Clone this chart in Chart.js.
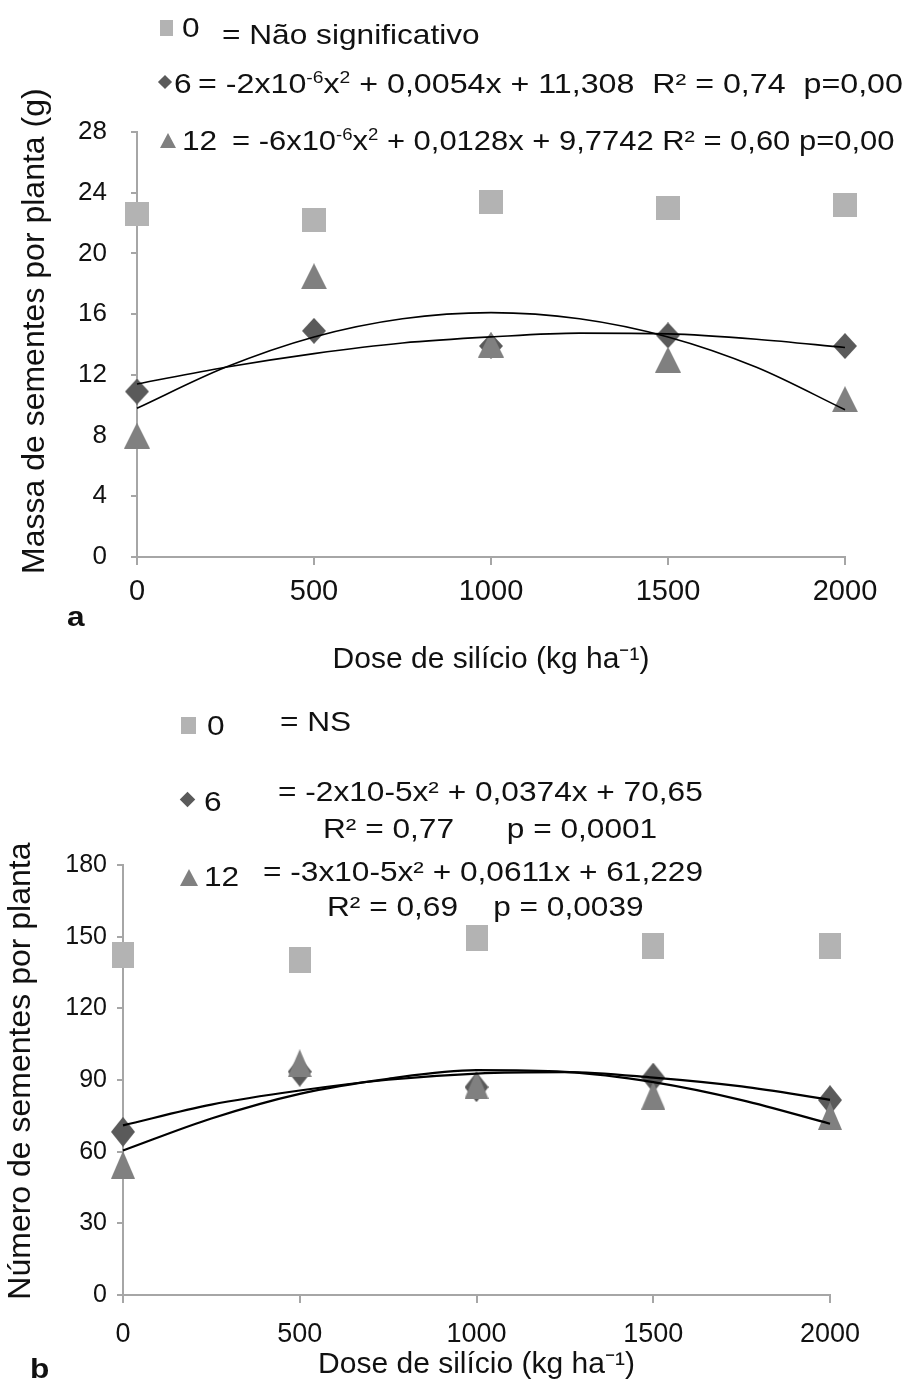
<!DOCTYPE html>
<html>
<head>
<meta charset="utf-8">
<script src="https://cdn.jsdelivr.net/npm/chart.js@4/dist/chart.umd.min.js"></script>
<style>
  html, body { margin: 0; padding: 0; background: #fff; }
  body { width: 909px; height: 1385px; position: relative; overflow: hidden;
         font-family: 'Liberation Sans', Arial, sans-serif; color: #111; }
  .wrap { position: absolute; left: 0; width: 909px; }
  .t { position: absolute; white-space: pre; line-height: 1; font-size: 28px;
       transform-origin: left center; transform: translateY(-50%) scaleX(1.13); }
  .s { font-size: 0.6em; position: relative; top: -0.6em; }
  .mk { position: absolute; }
</style>
</head>
<body>
<div class="wrap" style="top:0;height:700px"><canvas id="chartA"></canvas></div>
<div class="wrap" style="top:700px;height:685px"><canvas id="chartB"></canvas></div>

<!-- legend, chart a -->
<div class="mk" style="left:160px;top:20px;width:13px;height:16px;background:#b3b3b3"></div>
<div class="t" style="left:182px;top:28px">0</div>
<div class="t" style="left:222px;top:35px">= Não significativo</div>
<div class="mk" style="left:160px;top:77px;width:10px;height:10px;background:#5a5a5a;transform:rotate(45deg)"></div>
<div class="t" style="left:174px;top:84px">6</div>
<div class="t" style="left:198px;top:84px;transform:translateY(-50%) scaleX(1.15)">= -2x10<span class="s">-6</span>x<span class="s">2</span> + 0,0054x + 11,308  R² = 0,74  p=0,00</div>
<div class="mk" style="left:160px;top:133px;width:0;height:0;border-left:8px solid transparent;border-right:8px solid transparent;border-bottom:15px solid #808080"></div>
<div class="t" style="left:182px;top:141px">12</div>
<div class="t" style="left:232px;top:141px;transform:translateY(-50%) scaleX(1.105)">= -6x10<span class="s">-6</span>x<span class="s">2</span> + 0,0128x + 9,7742 R² = 0,60 p=0,00</div>
<div class="t" style="left:67px;top:617px;font-weight:bold">a</div>

<!-- legend, chart b -->
<div class="mk" style="left:181px;top:717px;width:15px;height:17px;background:#b3b3b3"></div>
<div class="t" style="left:207px;top:726px">0</div>
<div class="t" style="left:280px;top:722px">= NS</div>
<div class="mk" style="left:182px;top:794px;width:11px;height:11px;background:#5a5a5a;transform:rotate(45deg)"></div>
<div class="t" style="left:204px;top:802px">6</div>
<div class="t" style="left:278px;top:792px">= -2x10-5x² + 0,0374x + 70,65</div>
<div class="t" style="left:323px;top:829px">R² = 0,77      p = 0,0001</div>
<div class="mk" style="left:180px;top:869px;width:0;height:0;border-left:9px solid transparent;border-right:9px solid transparent;border-bottom:17px solid #808080"></div>
<div class="t" style="left:204px;top:877px">12</div>
<div class="t" style="left:263px;top:872px">= -3x10-5x² + 0,0611x + 61,229</div>
<div class="t" style="left:327px;top:907px">R² = 0,69    p = 0,0039</div>
<div class="t" style="left:30px;top:1369px;font-weight:bold">b</div>

<script>
// ---------- data ----------
const doses = [0, 500, 1000, 1500, 2000];
const xTicks = [0, 500, 1000, 1500, 2000];

// chart a: Massa de sementes por planta (g)
const yTicksA = [0, 4, 8, 12, 16, 20, 24, 28];
const massa0 = [22.6, 22.2, 23.4, 23.0, 23.2];
const massa6 = [10.9, 14.9, 13.9, 14.6, 13.9];
const massa12 = [8.0, 18.5, 14.0, 13.0, 10.4];
const trendX = [0, 250, 500, 750, 1000, 1250, 1500, 1750, 2000];
const massaTrend6 = [11.4, 12.5, 13.4, 14.1, 14.5, 14.75, 14.7, 14.35, 13.8];
const massaTrend12 = [9.8, 12.5, 14.5, 15.7, 16.1, 15.7, 14.5, 12.5, 9.7];

// chart b: Número de sementes por planta
const yTicksB = [0, 30, 60, 90, 120, 150, 180];
const numero0 = [142.3, 140.2, 149.3, 146.0, 146.0];
const numero6 = [68.3, 93.5, 87.0, 91.0, 81.6];
const numero12 = [54.5, 97.0, 88.0, 83.5, 75.0];
const numeroTrend6 = [71.0, 79.7, 85.6, 90.1, 92.7, 93.3, 91.0, 87.3, 81.7];
const numeroTrend12 = [60.5, 73.9, 84.2, 90.5, 94.1, 93.4, 89.1, 81.6, 71.7];

// ---------- helpers ----------
const FONT = "'Liberation Sans', Arial, sans-serif";
const NB = '\u00A0';
const pairs = (xs, ys) => xs.map((x, i) => ({ x: x, y: ys[i] }));
function mk(w, h, draw) {
  const c = document.createElement('canvas');
  c.width = w; c.height = h;
  draw(c.getContext('2d'), w, h);
  return c;
}
const square = (w, h, col) => mk(w, h, (g) => { g.fillStyle = col; g.fillRect(0, 0, w, h); });
const diamond = (w, h, col) => mk(w, h, (g) => {
  g.fillStyle = col; g.beginPath();
  g.moveTo(w / 2, 0); g.lineTo(w, h / 2); g.lineTo(w / 2, h); g.lineTo(0, h / 2);
  g.closePath(); g.fill();
});
const triangle = (w, h, col) => mk(w, h, (g) => {
  g.fillStyle = col; g.beginPath();
  g.moveTo(w / 2, 0); g.lineTo(w, h); g.lineTo(0, h);
  g.closePath(); g.fill();
});

const AXIS = '#a6a6a6';

function build(id, o) {
  const line = (label, ys) => ({
    label: label, data: pairs(trendX, ys), showLine: true, pointRadius: 0,
    borderColor: '#000', borderWidth: o.lw, cubicInterpolationMode: 'monotone', fill: false, clip: false
  });
  const pts = (label, ys, style) => ({
    label: label, data: pairs(doses, ys), pointStyle: style, pointRadius: 12, showLine: false, clip: false
  });
  return new Chart(document.getElementById(id), {
    type: 'scatter',
    data: {
      datasets: [
        line('6 (tendência)', o.t6),
        line('12 (tendência)', o.t12),
        pts('12', o.s12, o.tri),
        pts('6', o.s6, o.dia),
        pts('0', o.s0, o.sq)
      ]
    },
    options: {
      responsive: true,
      maintainAspectRatio: false,
      animation: false,
      events: [],
      layout: { padding: o.pad },
      plugins: { legend: { display: false }, tooltip: { enabled: false } },
      scales: {
        x: {
          type: 'linear', min: 0, max: 2000,
          afterBuildTicks: (s) => { s.ticks = xTicks.map(v => ({ value: v })); },
          afterFit: (s) => { s.height = o.xh; },
          ticks: { font: { size: o.xtf, family: FONT }, color: '#111', padding: o.xtp,
                   maxRotation: 0, autoSkip: false, callback: (v) => String(v) },
          grid: { drawOnChartArea: false, drawTicks: true, tickLength: 8, color: AXIS, lineWidth: 2 },
          border: { color: AXIS, width: 2 },
          title: { display: true, text: 'Dose de silício (kg ha⁻¹)', color: '#111',
                   font: { size: 30, family: FONT }, padding: { top: 0, bottom: o.xtb } }
        },
        y: {
          type: 'linear', min: o.ymin, max: o.ymax,
          afterBuildTicks: (s) => { s.ticks = o.yt.map(v => ({ value: v })); },
          afterFit: (s) => { s.width = o.yw; },
          ticks: { font: { size: o.ytf, family: FONT }, color: '#111', padding: o.ytp,
                   callback: (v) => String(v) },
          grid: { drawOnChartArea: false, drawTicks: true, tickLength: 6, color: AXIS, lineWidth: 2 },
          border: { color: AXIS, width: 2 },
          title: { display: true, text: o.ytitle, color: '#111',
                   font: { size: o.ytsz, family: FONT }, padding: { top: o.ytpt, bottom: 0 } }
        }
      }
    }
  });
}

build('chartA', {
  s0: massa0, s6: massa6, s12: massa12, t6: massaTrend6, t12: massaTrend12,
  sq: square(24, 24, '#b3b3b3'), dia: diamond(24, 26, '#5a5a5a'), tri: triangle(26, 26, '#808080'),
  pad: { top: 132, right: 64, left: 0, bottom: 0 }, lw: 1.6,
  xh: 143, xtf: 29, xtp: 10, xtb: 22,
  ymin: 0, ymax: 28, yt: yTicksA, yw: 137, ytf: 26, ytp: 24,
  ytitle: NB + NB + NB + 'Massa de sementes por planta (g)', ytsz: 32, ytpt: 16
});

build('chartB', {
  s0: numero0, s6: numero6, s12: numero12, t6: numeroTrend6, t12: numeroTrend12,
  sq: square(22, 26, '#b3b3b3'), dia: diamond(24, 30, '#5a5a5a'), tri: triangle(24, 28, '#808080'),
  pad: { top: 165, right: 79, left: 0, bottom: 0 }, lw: 2.2,
  xh: 90, xtf: 27, xtp: 15, xtb: 2,
  ymin: 0, ymax: 180, yt: yTicksB, yw: 123, ytf: 25, ytp: 10,
  ytitle: NB + NB + 'Número de sementes por planta', ytsz: 32, ytpt: 2
});
</script>
</body>
</html>
